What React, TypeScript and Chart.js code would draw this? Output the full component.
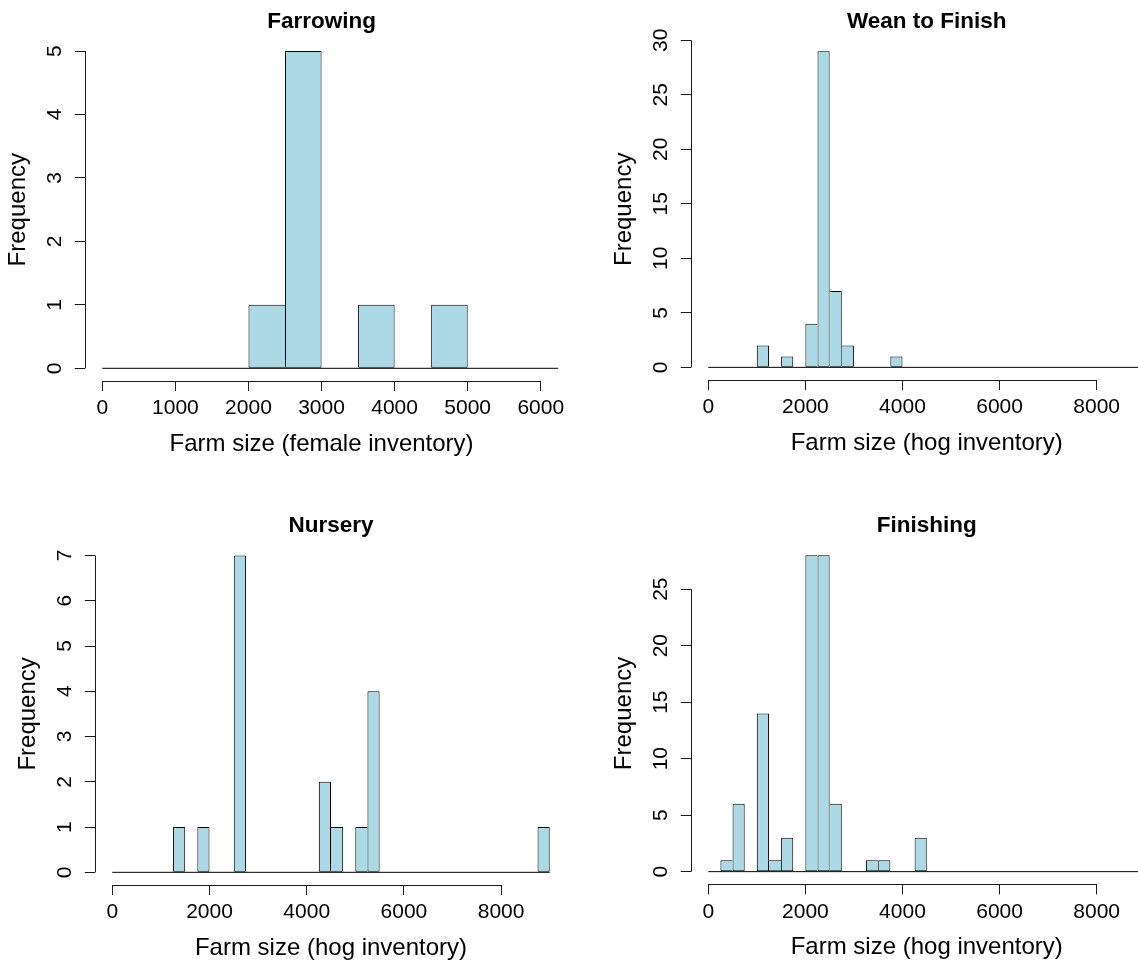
import React, { useEffect, useRef } from 'react';
import { Chart, registerables } from 'chart.js';

Chart.register(...registerables);

const FONT = '"Liberation Sans", Arial, Helvetica, sans-serif';

// ---------- data ----------
const farrowingBinWidth = 500;
// bins 0-500, 500-1000, ... 6000-6500
const farrowingCounts = [0, 0, 0, 0, 1, 5, 0, 1, 0, 1, 0, 0, 0];

const hogBinWidth = 250;
// bins 0-250, 250-500, ... 8750-9000
const weanToFinishCounts = [
  0, 0, 0, 0, 2, 0, 1, 0, 4, 29, 7, 2,
  0, 0, 0, 1, 0, 0, 0, 0, 0, 0, 0, 0,
  0, 0, 0, 0, 0, 0, 0, 0, 0, 0, 0, 0,
];
const nurseryCounts = [
  0, 0, 0, 0, 0, 1, 0, 1, 0, 0, 7, 0,
  0, 0, 0, 0, 0, 2, 1, 0, 1, 4, 0, 0,
  0, 0, 0, 0, 0, 0, 0, 0, 0, 0, 0, 1,
];
const finishingCounts = [
  0, 1, 6, 0, 14, 1, 3, 0, 28, 28, 6, 0,
  0, 1, 1, 0, 0, 3, 0, 0, 0, 0, 0, 0,
  0, 0, 0, 0, 0, 0, 0, 0, 0, 0, 0, 0,
];

const farrowingXlim = [0, 6000];
const hogXlim = [0, 9000];

const farrowingXTicks = [0, 1000, 2000, 3000, 4000, 5000, 6000];
const hogXTicks = [0, 2000, 4000, 6000, 8000];

const farrowingYTicks = [0, 1, 2, 3, 4, 5];
const weanToFinishYTicks = [0, 5, 10, 15, 20, 25, 30];
const nurseryYTicks = [0, 1, 2, 3, 4, 5, 6, 7];
const finishingYTicks = [0, 5, 10, 15, 20, 25];

const titles = ['Farrowing', 'Wean to Finish', 'Nursery', 'Finishing'];
const xLabels = [
  'Farm size (female inventory)',
  'Farm size (hog inventory)',
  'Farm size (hog inventory)',
  'Farm size (hog inventory)',
];
const yLabel = 'Frequency';

// ---------- layout / style ----------
const CW = 1200;
const CH = 980;
const XH = 40;
const TICK_SIZE = 21;
const LAB_SIZE = 24;
const MAIN_SIZE = 22.5;
const TICK_LEN = 10;
const BAR_FILL = '#ADD8E6';
const BAR_LINE = '#000000';
const AXIS_COLOR = '#1a1a1a';

type Area = { left: number; right: number; top: number; bottom: number };
type PanelCfg = {
  title: string;
  xlabel: string;
  counts: number[];
  binWidth: number;
  xlim: number[];
  xTicks: number[];
  yTicks: number[];
  area: Area;
  padLeft: number;
};

const panels: PanelCfg[] = [
  {
    title: titles[0], xlabel: xLabels[0], counts: farrowingCounts, binWidth: farrowingBinWidth,
    xlim: farrowingXlim, xTicks: farrowingXTicks, yTicks: farrowingYTicks,
    area: { left: 84.8, right: 558.3, top: 38.4, bottom: 381 }, padLeft: 0,
  },
  {
    title: titles[1], xlabel: xLabels[1], counts: weanToFinishCounts, binWidth: hogBinWidth,
    xlim: hogXlim, xTicks: hogXTicks, yTicks: weanToFinishYTicks,
    area: { left: 690.8, right: 1162.7, top: 38.6, bottom: 380 }, padLeft: 590,
  },
  {
    title: titles[2], xlabel: xLabels[2], counts: nurseryCounts, binWidth: hogBinWidth,
    xlim: hogXlim, xTicks: hogXTicks, yTicks: nurseryYTicks,
    area: { left: 94.8, right: 567.2, top: 542.8, bottom: 885 }, padLeft: 0,
  },
  {
    title: titles[3], xlabel: xLabels[3], counts: finishingCounts, binWidth: hogBinWidth,
    xlim: hogXlim, xTicks: hogXTicks, yTicks: finishingYTicks,
    area: { left: 690.8, right: 1162.7, top: 542.6, bottom: 884.3 }, padLeft: 590,
  },
];

function textWidth(text: string, font: string): number {
  const c = document.createElement('canvas').getContext('2d');
  if (!c) return 0;
  c.font = font;
  return c.measureText(text).width;
}

const rStylePlugin = {
  id: 'rStyle',
  afterDraw(chart: any, _args: any, opts: any) {
    const { ctx, chartArea, scales } = chart;
    const x = scales.x;
    const y = scales.y;
    ctx.save();
    ctx.strokeStyle = AXIS_COLOR;
    ctx.lineWidth = 1;
    // y axis line between first and last tick
    const yt: number[] = opts.yTicks;
    const ax = Math.round(chartArea.left) + 0.5;
    ctx.beginPath();
    ctx.moveTo(ax, y.getPixelForValue(yt[0]));
    ctx.lineTo(ax, y.getPixelForValue(yt[yt.length - 1]));
    ctx.stroke();
    // x axis line between first and last tick
    const xt: number[] = opts.xTicks;
    const ay = Math.round(chartArea.bottom) + 0.5;
    ctx.beginPath();
    ctx.moveTo(x.getPixelForValue(xt[0]), ay);
    ctx.lineTo(x.getPixelForValue(xt[xt.length - 1]), ay);
    ctx.stroke();

    const cx = (chartArea.left + chartArea.right) / 2;
    const cy = (chartArea.top + chartArea.bottom) / 2;
    ctx.fillStyle = '#000';
    ctx.textAlign = 'center';
    ctx.textBaseline = 'alphabetic';
    ctx.font = `bold ${MAIN_SIZE}px ${FONT}`;
    ctx.fillText(opts.title, cx, chartArea.top - 10.5);
    ctx.font = `${LAB_SIZE}px ${FONT}`;
    ctx.fillText(opts.xlabel, cx, chartArea.bottom + 70);
    ctx.translate(chartArea.left - 66, cy);
    ctx.rotate(-Math.PI / 2);
    ctx.textBaseline = 'middle';
    ctx.fillText(opts.ylabel, 0, 0);
    ctx.restore();
  },
};

function Panel({ cfg }: { cfg: PanelCfg }) {
  const ref = useRef<HTMLCanvasElement | null>(null);
  useEffect(() => {
    const canvas = ref.current;
    if (!canvas) return;
    const { counts, binWidth, xlim, xTicks, yTicks, area, padLeft } = cfg;
    const bars = counts.map((c, i) => ({ x: (i + 0.5) * binWidth, y: c }));
    const binEnd = counts.length * binWidth;
    const ymax = Math.max(...counts);
    const xr = xlim[1] - xlim[0];
    const tickFont = `${TICK_SIZE}px ${FONT}`;
    const widest = Math.max(...yTicks.map((v) => textWidth(String(v), tickFont)));
    const yPad = Math.max(0, 30 - TICK_LEN - widest / 2);

    const bw = (c: any) => {
      const i = c.dataIndex;
      const v = counts[i];
      if (!v) return 0;
      const prev = i > 0 ? counts[i - 1] : 0;
      const next = i < counts.length - 1 ? counts[i + 1] : 0;
      return {
        top: 1,
        bottom: 1,
        left: prev <= v ? 1 : 0,
        right: next < v ? 1 : 0,
      };
    };
    const bg = (c: any) => (counts[c.dataIndex] ? BAR_FILL : 'rgba(0,0,0,0)');

    const chart = new Chart(canvas, {
      type: 'bar',
      data: {
        datasets: [
          {
            type: 'bar',
            data: bars as any,
            backgroundColor: bg as any,
            borderColor: BAR_LINE,
            borderWidth: bw as any,
            borderSkipped: false,
            inflateAmount: 0,
            barPercentage: 1,
            categoryPercentage: 1,
            order: 1,
          } as any,
          {
            type: 'line',
            data: [
              { x: 0, y: 0 },
              { x: binEnd, y: 0 },
            ] as any,
            borderColor: '#000',
            borderWidth: 1,
            pointRadius: 0,
            fill: false,
            order: 2,
          } as any,
        ],
      },
      options: {
        responsive: false,
        animation: false,
        events: [],
        layout: {
          padding: {
            left: padLeft,
            right: CW - area.right,
            top: area.top,
            bottom: CH - area.bottom - XH,
          },
        },
        plugins: {
          legend: { display: false },
          tooltip: { enabled: false },
          title: { display: false },
          rStyle: {
            title: cfg.title,
            xlabel: cfg.xlabel,
            ylabel: yLabel,
            xTicks,
            yTicks,
          },
        } as any,
        scales: {
          x: {
            type: 'linear',
            min: xlim[0] - 0.04 * xr,
            max: xlim[1] + 0.04 * xr,
            offset: false,
            afterBuildTicks: (s: any) => {
              s.ticks = xTicks.map((v) => ({ value: v }));
            },
            afterFit: (s: any) => {
              s.height = XH;
            },
            grid: {
              display: true,
              drawOnChartArea: false,
              drawTicks: true,
              tickLength: TICK_LEN,
              color: AXIS_COLOR,
              lineWidth: 1,
              offset: false,
            },
            border: { display: false },
            ticks: {
              autoSkip: false,
              maxRotation: 0,
              minRotation: 0,
              padding: 5,
              color: '#000',
              font: { family: FONT, size: TICK_SIZE },
              callback: (v: any) => String(v),
            },
          },
          y: {
            type: 'linear',
            min: -0.04 * ymax,
            max: 1.04 * ymax,
            afterBuildTicks: (s: any) => {
              s.ticks = yTicks.map((v) => ({ value: v }));
            },
            afterFit: (s: any) => {
              s.width = area.left - padLeft;
            },
            grid: {
              display: true,
              drawOnChartArea: false,
              drawTicks: true,
              tickLength: TICK_LEN,
              color: AXIS_COLOR,
              lineWidth: 1,
            },
            border: { display: false },
            ticks: {
              autoSkip: false,
              minRotation: 90,
              maxRotation: 90,
              crossAlign: 'center',
              padding: yPad,
              color: '#000',
              font: { family: FONT, size: TICK_SIZE },
              callback: (v: any) => String(v),
            },
          },
        } as any,
      },
      plugins: [rStylePlugin as any],
    });
    return () => chart.destroy();
  }, [cfg]);

  return (
    <canvas
      ref={ref}
      width={CW}
      height={CH}
      style={{ position: 'absolute', left: 0, top: 0, width: CW, height: CH }}
    />
  );
}

export default function App() {
  return (
    <div
      style={{
        position: 'absolute',
        left: 0,
        top: 0,
        width: 1138,
        height: 969,
        overflow: 'hidden',
        background: '#fff',
      }}
    >
      {panels.map((p) => (
        <Panel key={p.title} cfg={p} />
      ))}
    </div>
  );
}
